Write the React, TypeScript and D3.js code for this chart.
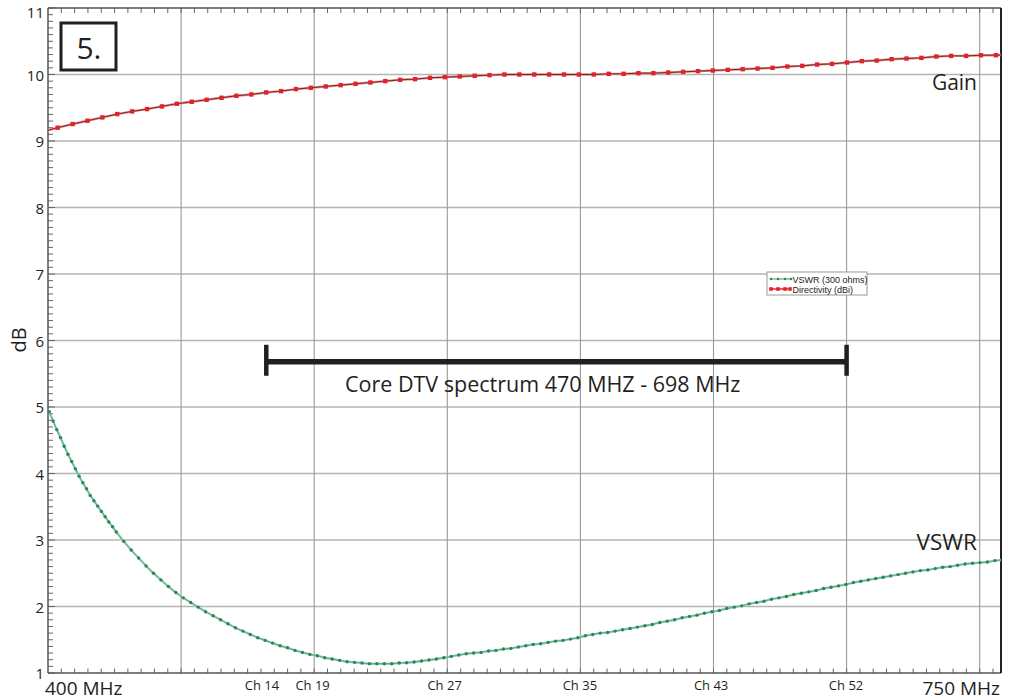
import { useEffect, useRef } from "react";
import * as d3 from "d3";

// frequency axis (MHz) and dB axis
const freqDomain: [number, number] = [400, 758];
const dbDomain: [number, number] = [1, 11];
const gridMHz = [450, 500, 550, 600, 650, 700, 750];
const dbTicks = [1, 2, 3, 4, 5, 6, 7, 8, 9, 10, 11];
const channelLabels = ["Ch 14", "Ch 19", "Ch 27", "Ch 35", "Ch 43", "Ch 52"];
const channelMHz = [480.4, 499.4, 549, 599.8, 649.1, 699.8];

// Gain / directivity sweep
const gainStartMHz = 398.05;
const gainStepMHz = 5.594;
const gainDb = [
  9.14, 9.2, 9.255, 9.305, 9.355, 9.405, 9.445, 9.48, 9.52, 9.56, 9.59,
  9.62, 9.65, 9.68, 9.7, 9.73, 9.75, 9.78, 9.8, 9.82, 9.84, 9.86, 9.88,
  9.9, 9.92, 9.93, 9.95, 9.96, 9.97, 9.98, 9.99, 10.0, 10.0, 10.0, 10.0,
  10.0, 10.0, 10.0, 10.01, 10.01, 10.02, 10.02, 10.03, 10.04, 10.05, 10.06,
  10.07, 10.08, 10.09, 10.1, 10.12, 10.13, 10.15, 10.16, 10.18, 10.2, 10.21,
  10.23, 10.24, 10.25, 10.27, 10.28, 10.28, 10.29, 10.29, 10.3,
];

// VSWR sweep: fine steps at the start, then coarse
const vswrStartMHz = 400.5;
const vswrFineStepMHz = 1.397;
const vswrCoarseStepMHz = 2.797;
const vswrFine = [
  4.93, 4.79, 4.66, 4.54, 4.41, 4.29, 4.18, 4.07, 3.96, 3.86, 3.77, 3.67,
  3.59, 3.51, 3.43, 3.35, 3.27, 3.2, 3.12,
];
const vswrCoarse = [
  2.98, 2.85, 2.73, 2.61, 2.5, 2.4, 2.3, 2.21, 2.13, 2.06, 1.99, 1.92, 1.86,
  1.8, 1.74, 1.68, 1.63, 1.58, 1.53, 1.49, 1.45, 1.41, 1.38, 1.34, 1.31, 1.28,
  1.26, 1.23, 1.21, 1.19, 1.17, 1.16, 1.15, 1.14, 1.14, 1.14, 1.14, 1.15,
  1.155, 1.165, 1.18, 1.195, 1.21, 1.23, 1.25, 1.27, 1.29, 1.3, 1.31, 1.33,
  1.34, 1.36, 1.37, 1.39, 1.41, 1.43, 1.44, 1.46, 1.48, 1.49, 1.51, 1.53,
  1.56, 1.58, 1.6, 1.61, 1.63, 1.65, 1.67, 1.69, 1.71, 1.73, 1.76, 1.78, 1.8,
  1.83, 1.85, 1.87, 1.9, 1.92, 1.94, 1.97, 1.99, 2.01, 2.04, 2.06, 2.08, 2.11,
  2.13, 2.15, 2.18, 2.2, 2.22, 2.24, 2.27, 2.29, 2.31, 2.33, 2.36, 2.38, 2.4,
  2.42, 2.44, 2.46, 2.48, 2.5, 2.52, 2.54, 2.55, 2.57, 2.59, 2.6, 2.62, 2.64,
  2.65, 2.66, 2.67, 2.69, 2.7,
];

// DTV core band annotation (bar ends as drawn)
const dtvStartMHz = 482;
const dtvEndMHz = 700;
const dtvLevelDb = 5.68;

const FONT = "'Open Sans', 'DejaVu Sans', sans-serif";

type Pt = { f: number; v: number };

const App = () => {
  const ref = useRef<SVGSVGElement>(null);

  useEffect(() => {
    const width = 1011,
      height = 700,
      margin = { top: 8, right: 10, bottom: 27, left: 48 };
    const svg = d3.select(ref.current);
    svg.selectAll("*").remove();

    const x = d3
      .scaleLinear()
      .domain(freqDomain)
      .range([margin.left, width - margin.right]);
    const y = d3
      .scaleLinear()
      .domain(dbDomain)
      .range([height - margin.bottom, margin.top]);
    const x0 = margin.left,
      x1 = width - margin.right,
      y0 = height - margin.bottom,
      y1 = margin.top;

    svg.append("rect").attr("width", width).attr("height", height).attr("fill", "#fff");

    svg
      .append("defs")
      .append("clipPath")
      .attr("id", "plot")
      .append("rect")
      .attr("x", x0)
      .attr("y", y1)
      .attr("width", x1 - x0)
      .attr("height", y0 - y1);

    // horizontal grid
    svg
      .append("g")
      .selectAll("line")
      .data(dbTicks.filter((d) => d > 1 && d < 11))
      .enter()
      .append("line")
      .attr("x1", x0)
      .attr("x2", x1)
      .attr("y1", (d) => y(d))
      .attr("y2", (d) => y(d))
      .attr("stroke", "#b4b4b4")
      .attr("stroke-width", 1.3);

    // vertical grid
    svg
      .append("g")
      .selectAll("line")
      .data(gridMHz)
      .enter()
      .append("line")
      .attr("x1", (d) => x(d))
      .attr("x2", (d) => x(d))
      .attr("y1", y1)
      .attr("y2", y0)
      .attr("stroke", "#9a9a9a")
      .attr("stroke-width", 1.1);

    // minor ticks
    const axisG = svg.append("g").attr("stroke", "#666").attr("stroke-width", 1);
    const xMinor = d3.range(405, freqDomain[1], 5);
    axisG
      .selectAll(".xb")
      .data(xMinor)
      .enter()
      .append("line")
      .attr("x1", (d) => x(d))
      .attr("x2", (d) => x(d))
      .attr("y1", y0)
      .attr("y2", y0 - 4.5);
    axisG
      .selectAll(".xt")
      .data(xMinor)
      .enter()
      .append("line")
      .attr("x1", (d) => x(d))
      .attr("x2", (d) => x(d))
      .attr("y1", y1)
      .attr("y2", y1 + 5);
    const yMinor = d3.range(10, 111).map((d) => d / 10);
    axisG
      .selectAll(".yl")
      .data(yMinor)
      .enter()
      .append("line")
      .attr("x1", x0)
      .attr("x2", (d) => (Math.abs(d - Math.round(d)) < 0.01 ? x0 + 7 : x0 + 5))
      .attr("y1", (d) => y(d))
      .attr("y2", (d) => y(d));

    // frame
    svg
      .append("line")
      .attr("x1", x0)
      .attr("x2", x1)
      .attr("y1", y1)
      .attr("y2", y1)
      .attr("stroke", "#555")
      .attr("stroke-width", 1.5);
    svg
      .append("line")
      .attr("x1", x0)
      .attr("x2", x1)
      .attr("y1", y0)
      .attr("y2", y0)
      .attr("stroke", "#555")
      .attr("stroke-width", 1.5);
    svg
      .append("line")
      .attr("x1", x0)
      .attr("x2", x0)
      .attr("y1", y1)
      .attr("y2", y0)
      .attr("stroke", "#555")
      .attr("stroke-width", 1.5);
    svg
      .append("line")
      .attr("x1", x1)
      .attr("x2", x1)
      .attr("y1", y1)
      .attr("y2", y0)
      .attr("stroke", "#222")
      .attr("stroke-width", 2);

    // y tick labels
    svg
      .append("g")
      .selectAll("text")
      .data(dbTicks)
      .enter()
      .append("text")
      .attr("x", 44)
      .attr("y", (d) => Math.max(y(d) + 6, 18))
      .attr("text-anchor", "end")
      .attr("font-family", FONT)
      .attr("font-size", 15)
      .attr("fill", "#231f20")
      .text((d) => d);

    svg
      .append("text")
      .attr("transform", "translate(26,340) rotate(-90)")
      .attr("text-anchor", "middle")
      .attr("font-family", FONT)
      .attr("font-size", 20)
      .attr("fill", "#231f20")
      .text("dB");

    // x labels
    svg
      .append("text")
      .attr("x", x(freqDomain[0]) - 3)
      .attr("y", 695)
      .attr("font-family", FONT)
      .attr("font-size", 19)
      .attr("fill", "#231f20")
      .text("400 MHz");
    svg
      .append("text")
      .attr("x", x(freqDomain[1]) - 1)
      .attr("y", 695)
      .attr("text-anchor", "end")
      .attr("font-family", FONT)
      .attr("font-size", 19)
      .attr("fill", "#231f20")
      .text("750 MHz");
    svg
      .append("g")
      .selectAll("text")
      .data(channelLabels)
      .enter()
      .append("text")
      .attr("x", (_, i) => x(channelMHz[i]))
      .attr("y", 690)
      .attr("text-anchor", "middle")
      .attr("font-family", FONT)
      .attr("font-size", 13)
      .attr("fill", "#231f20")
      .text((d) => d);

    // curves
    const gainPts: Pt[] = gainDb.map((v, i) => ({ f: gainStartMHz + i * gainStepMHz, v }));
    const fineEnd = vswrStartMHz + (vswrFine.length - 1) * vswrFineStepMHz;
    const vswrPts: Pt[] = [
      ...vswrFine.map((v, i) => ({ f: vswrStartMHz + i * vswrFineStepMHz, v })),
      ...vswrCoarse.map((v, k) => ({ f: fineEnd + (k + 1) * vswrCoarseStepMHz, v })),
    ];
    const line = d3
      .line<Pt>()
      .x((d) => x(d.f))
      .y((d) => y(d.v));

    const plot = svg.append("g").attr("clip-path", "url(#plot)");

    plot
      .append("path")
      .datum(vswrPts)
      .attr("d", line)
      .attr("fill", "none")
      .attr("stroke", "#9fd3b9")
      .attr("stroke-width", 2.4);
    plot
      .append("path")
      .datum(vswrPts)
      .attr("d", line)
      .attr("fill", "none")
      .attr("stroke", "#4f9a74")
      .attr("stroke-width", 0.8);
    plot
      .selectAll(".vdot")
      .data(vswrPts)
      .enter()
      .append("circle")
      .attr("cx", (d) => x(d.f))
      .attr("cy", (d) => y(d.v))
      .attr("r", 1.7)
      .attr("fill", "#27885a");

    plot
      .append("path")
      .datum(gainPts)
      .attr("d", line)
      .attr("fill", "none")
      .attr("stroke", "#e88a8a")
      .attr("stroke-width", 2.4);
    plot
      .append("path")
      .datum(gainPts)
      .attr("d", line)
      .attr("fill", "none")
      .attr("stroke", "#6e1717")
      .attr("stroke-width", 0.9);
    plot
      .selectAll(".gsq")
      .data(gainPts)
      .enter()
      .append("rect")
      .attr("x", (d) => x(d.f) - 2.2)
      .attr("y", (d) => y(d.v) - 2.2)
      .attr("width", 4.4)
      .attr("height", 4.4)
      .attr("fill", "#e3232b");

    // legend
    const lg = svg.append("g");
    lg.append("rect")
      .attr("x", 767)
      .attr("y", 272)
      .attr("width", 100)
      .attr("height", 23)
      .attr("fill", "#fff")
      .attr("stroke", "#9a9a9a");
    lg.append("line")
      .attr("x1", 770)
      .attr("x2", 791)
      .attr("y1", 279)
      .attr("y2", 279)
      .attr("stroke", "#4f9a74");
    [771, 778, 785, 791].forEach((cx) =>
      lg.append("circle").attr("cx", cx).attr("cy", 279).attr("r", 1.3).attr("fill", "#27885a")
    );
    lg.append("line")
      .attr("x1", 770)
      .attr("x2", 791)
      .attr("y1", 289)
      .attr("y2", 289)
      .attr("stroke", "#e3232b")
      .attr("stroke-width", 1.5);
    [771, 778, 785, 790].forEach((cx) =>
      lg
        .append("rect")
        .attr("x", cx - 1.8)
        .attr("y", 287.2)
        .attr("width", 3.6)
        .attr("height", 3.6)
        .attr("fill", "#e3232b")
    );
    lg.append("text")
      .attr("x", 792.5)
      .attr("y", 282.5)
      .attr("font-family", "'Liberation Sans', Arial, sans-serif")
      .attr("font-size", 9)
      .attr("fill", "#222")
      .text("VSWR (300 ohms)");
    lg.append("text")
      .attr("x", 792.5)
      .attr("y", 292.5)
      .attr("font-family", "'Liberation Sans', Arial, sans-serif")
      .attr("font-size", 9)
      .attr("fill", "#222")
      .text("Directivity (dBi)");

    // DTV band bar
    const by = y(dtvLevelDb);
    const bar = svg.append("g").attr("stroke", "#231f20");
    bar
      .append("line")
      .attr("x1", x(dtvStartMHz))
      .attr("x2", x(dtvEndMHz))
      .attr("y1", by)
      .attr("y2", by)
      .attr("stroke-width", 5.5);
    [dtvStartMHz, dtvEndMHz].forEach((f) =>
      bar
        .append("line")
        .attr("x1", x(f))
        .attr("x2", x(f))
        .attr("y1", by - 17)
        .attr("y2", by + 14)
        .attr("stroke-width", 4.5)
    );
    svg
      .append("text")
      .attr("x", 345)
      .attr("y", 392)
      .attr("font-family", FONT)
      .attr("font-size", 21.5)
      .attr("fill", "#231f20")
      .text("Core DTV spectrum 470 MHZ - 698 MHz");

    // curve labels
    svg
      .append("text")
      .attr("x", 977)
      .attr("y", 90)
      .attr("text-anchor", "end")
      .attr("font-family", FONT)
      .attr("font-size", 21)
      .attr("fill", "#231f20")
      .text("Gain");
    svg
      .append("text")
      .attr("x", 977)
      .attr("y", 550)
      .attr("text-anchor", "end")
      .attr("font-family", FONT)
      .attr("font-size", 22.5)
      .attr("fill", "#231f20")
      .text("VSWR");

    // figure number box
    svg
      .append("rect")
      .attr("x", 61)
      .attr("y", 23)
      .attr("width", 55)
      .attr("height", 47)
      .attr("fill", "#fff")
      .attr("stroke", "#231f20")
      .attr("stroke-width", 3);
    svg
      .append("text")
      .attr("x", 89)
      .attr("y", 58.5)
      .attr("text-anchor", "middle")
      .attr("font-family", FONT)
      .attr("font-size", 30)
      .attr("fill", "#231f20")
      .text("5.");
  }, []);

  return (
    <svg
      ref={ref}
      width={1011}
      height={700}
      style={{ position: "absolute", left: 0, top: 0, display: "block" }}
    />
  );
};

export default App;
